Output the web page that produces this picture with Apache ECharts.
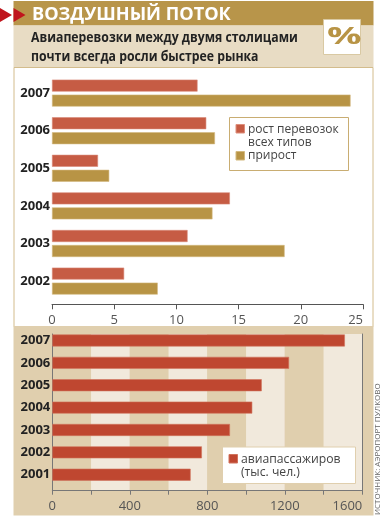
<!DOCTYPE html>
<html>
<head>
<meta charset="utf-8">
<style>
  html, body { margin: 0; padding: 0; background: #fff; }
  #chart { width: 384px; height: 516px; }
</style>
<script src="https://cdn.jsdelivr.net/npm/echarts@6/dist/echarts.min.js"></script>
</head>
<body>
<div id="chart"></div>
<script>
// верхний график, %
var growthYears = ["2007", "2006", "2005", "2004", "2003", "2002"];
var growthAll = [11.7, 12.4, 3.7, 14.3, 10.9, 5.8];
var growthCapital = [24.0, 13.1, 4.6, 12.9, 18.7, 8.5];
var growthNames = ["рост перевозок\nвсех типов", "прирост"];
// нижний график, тыс. чел.
var paxYears = ["2007", "2006", "2005", "2004", "2003", "2002", "2001"];
var paxValues = [1510, 1222, 1081, 1032, 917, 772, 714];
var paxName = "авиапассажиров\n(тыс. чел.)";
var paxTicks = [0, 400, 800, 1200, 1600];
var titleText = "ВОЗДУШНЫЙ ПОТОК";
var subtitleLines = ["Авиаперевозки между двумя столицами", "почти всегда росли быстрее рынка"];
var sourceText = "ИСТОЧНИК: АЭРОПОРТ ПУЛКОВО";

var FONT = '"Open Sans", sans-serif';
var GOLD = "#b89445", RED = "#c65c44", DEEP_RED = "#bf4730";
var myChart = echarts.init(document.getElementById("chart"), null, { renderer: "canvas" });

function rect(x, y, w, h, fill, stroke, z, lw) {
  return { type: "rect", z: z, shape: { x: x, y: y, width: w, height: h },
    style: { fill: fill, stroke: stroke || null, lineWidth: lw || 1 } };
}
function label(x, y, text, size, color, weight, z, sx) {
  return { type: "text", x: x, y: y, z: z, scaleX: sx || 1,
    style: { text: text, fill: color, font: (weight || "normal") + " " + size + "px " + FONT,
      verticalAlign: "middle", lineHeight: 13.5 } };
}
function triangle(x) {
  return { type: "polygon", z: 5, shape: { points: [[x, 8], [x + 12, 15], [x, 22]] }, style: { fill: "#c0141c" } };
}

var graphics = [
  rect(13.5, 1, 360, 24.5, "#b8954a", null, -5),
  rect(13.5, 25.5, 360, 42, "#e8dcc4", null, -5),
  rect(14, 67.5, 359, 259, "#fff", "#d3bc8c", -5, 1),
  rect(13.5, 326, 360, 189.5, "#e0cfae", null, -5),
  triangle(0), triangle(13.5),
  label(32, 15, titleText, 18.5, "#fff", "bold", 5, 0.98),
  label(31, 38.5, subtitleLines[0], 14, "#222", "bold", 5, 0.875),
  label(31, 57, subtitleLines[1], 14, "#222", "bold", 5, 0.875),
  rect(323.5, 19.5, 37, 35, "#fff", "#d9c9a3", 5, 1),
  label(327, 37, "%", 24, GOLD, "bold", 6, 1.6),
  // легенда верхнего графика
  rect(229.5, 117.5, 119, 53, "#fff", "#c9ad72", 50, 1),
  rect(236, 124.5, 8.5, 8.5, RED, "#dd8f7d", 51, 1),
  rect(236, 151.5, 8.5, 8.5, GOLD, "#d3b97f", 51, 1),
  label(248, 136, growthNames[0], 12, "#444", "normal", 51),
  label(248, 156, growthNames[1], 12, "#444", "normal", 51),
  // легенда нижнего графика
  rect(222.5, 447, 133, 36.5, "#fff", "#e0cfae", 50, 1),
  rect(229, 454.5, 8.5, 8.5, DEEP_RED, "#d0735c", 51, 1),
  label(241, 466, paxName, 12.2, "#444", "normal", 51),
  { type: "text", x: 378, y: 515, z: 5, rotation: Math.PI / 2,
    style: { text: sourceText, fill: "#666", font: "normal 8px " + FONT,
      verticalAlign: "middle", align: "left" } }
];

var yLabel = { color: "#222", fontFamily: FONT, fontWeight: "bold", fontSize: 13, margin: 2 };
var xLabel = { color: "#555", fontFamily: FONT, fontSize: 13, alignMaxLabel: "right" };

var option = {
  animation: false,
  graphic: graphics,
  grid: [
    { left: 52, right: 21, top: 74.3, height: 225.6, containLabel: false },
    { left: 52.3, right: 21.7, top: 334, height: 156.7, containLabel: false },
    { left: 52.3, right: 21.7, top: 329.3, height: 156.6, containLabel: false }
  ],
  xAxis: [
    { gridIndex: 0, type: "value", min: 0, max: 25, interval: 5, position: "bottom", offset: 4.4,
      axisLine: { show: true, lineStyle: { color: "#555", width: 1 } },
      axisTick: { show: true, length: 5, lineStyle: { color: "#555" } },
      splitLine: { show: false },
      axisLabel: Object.assign({}, xLabel, { margin: 9 }) },
    { gridIndex: 1, type: "value", min: 0, max: 1600, interval: 200, position: "bottom",
      axisLine: { show: true, lineStyle: { color: "#777", width: 1 } },
      axisTick: { show: true, length: 4, lineStyle: { color: "#777" } },
      splitLine: { show: false },
      splitArea: { show: true, areaStyle: { color: ["#e0cfae", "#f1e9dc"] } },
      axisLabel: Object.assign({}, xLabel, { margin: 9,
        formatter: function (v) { return paxTicks.indexOf(v) >= 0 ? String(v) : ""; } }) },
    { gridIndex: 2, type: "value", min: 0, max: 1600, show: false }
  ],
  yAxis: [
    { gridIndex: 0, type: "category", data: growthYears, inverse: true,
      axisLine: { show: false }, axisTick: { show: false }, axisLabel: yLabel },
    { gridIndex: 1, type: "value", min: 0, max: 1, position: "left",
      axisLine: { show: true, lineStyle: { color: "#777" } }, axisTick: { show: false },
      axisLabel: { show: false }, splitLine: { show: false } },
    { gridIndex: 1, type: "value", min: 0, max: 1, position: "right",
      axisLine: { show: true, lineStyle: { color: "#777" } }, axisTick: { show: false },
      axisLabel: { show: false }, splitLine: { show: false } },
    { gridIndex: 2, type: "category", data: paxYears, inverse: true,
      axisLine: { show: false }, axisTick: { show: false }, axisLabel: yLabel }
  ],
  series: [
    { type: "bar", name: growthNames[0], xAxisIndex: 0, yAxisIndex: 0, data: growthAll,
      barWidth: 12, barGap: "25%",
      itemStyle: { color: RED, borderColor: "#d98a78", borderWidth: 0.6 } },
    { type: "bar", name: growthNames[1], xAxisIndex: 0, yAxisIndex: 0, data: growthCapital,
      barWidth: 12, barGap: "25%",
      itemStyle: { color: GOLD, borderColor: "#d3b97f", borderWidth: 0.6 } },
    { type: "bar", name: paxName, xAxisIndex: 2, yAxisIndex: 3, data: paxValues,
      barWidth: 12,
      itemStyle: { color: DEEP_RED, borderColor: "#d0735c", borderWidth: 0.6 } }
  ]
};
myChart.setOption(option);
</script>
</body>
</html>
